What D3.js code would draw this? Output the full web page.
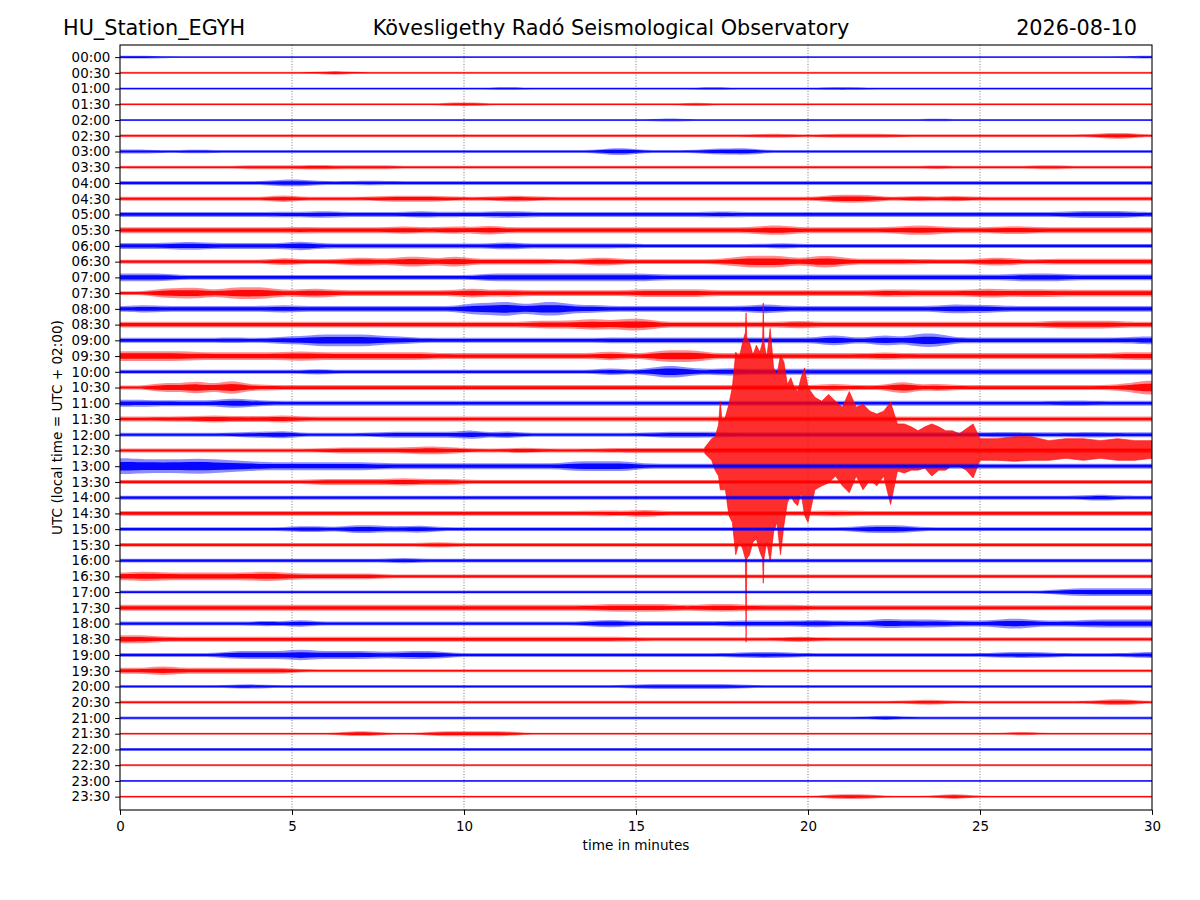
<!DOCTYPE html>
<html>
<head>
<meta charset="utf-8">
<script src="https://cdn.jsdelivr.net/npm/d3@7/dist/d3.min.js"></script>
<style>
  body { margin: 0; background: #fff; }
  text { font-family: "DejaVu Sans", sans-serif; fill: #000; }
</style>
</head>
<body>
<div id="chart"></div>
<script>
var stationName = "HU_Station_EGYH";
var observatory = "Kövesligethy Radó Seismological Observatory";
var dayLabel = "2026-08-10";

var traceLabels = [
  "00:00","00:30","01:00","01:30","02:00","02:30","03:00","03:30",
  "04:00","04:30","05:00","05:30","06:00","06:30","07:00","07:30",
  "08:00","08:30","09:00","09:30","10:00","10:30","11:00","11:30",
  "12:00","12:30","13:00","13:30","14:00","14:30","15:00","15:30",
  "16:00","16:30","17:00","17:30","18:00","18:30","19:00","19:30",
  "20:00","20:30","21:00","21:30","22:00","22:30","23:00","23:30"
];

var minuteTicks = [0, 5, 10, 15, 20, 25, 30];

// noise envelope per half-minute, one string per trace (base-36 char = 2 x half amplitude)
var noiseLevels = [
  "3322222222 2222222222 2222222222 2222222222 2222222222 2222222223",
  "2222222222 2252222222 2222222222 2222222222 2222222222 2222222222",
  "2222222222 2222222222 2232222222 2222322222 2332222222 2222222222",
  "2222222222 2222222224 4222222222 2224222222 2222222222 2222222222",
  "2222222222 2222222222 2222222222 2332222222 2222222322 2222222222",
  "3333333333 3333333333 3333333333 3333333443 3444433333 3333333663",
  "4433433333 3333333333 3333333377 3333667333 3333333333 3333333333",
  "3333333444 4544443333 3333333333 3333333333 3333333433 3334433333",
  "4444444447 7444544444 4444444444 4444444444 4444444444 4444444444",
  "4444444448 4444466664 4466444444 4444444444 4888446464 4444444444",
  "5555555556 5765555756 5676555555 5555665555 5555555555 5555577775",
  "6666666666 7666668668 6a66666666 66666669a6 666668a866 6886666666",
  "6668866666 a655555555 5585555555 4444444464 4444444444 4444444444",
  "4444444448 555886aa6c 6666655885 555558ccc6 cc66665555 8855666666",
  "8885555555 5555555555 5888888888 8666666666 6666666666 6688866666",
  "44aac6ccc6 8a66666666 a686666666 8888666666 6666877777 a788777777",
  "6866666668 6666666666 ccg8ee8866 6666666a66 66666666a8 8666666666",
  "6666666666 6666666666 6666888c8c c666666668 6666666666 6666888866",
  "5555556558 8cccc88555 5555555566 6666666666 6c66c6ee66 6666666668",
  "aaaa888888 a888888866 66666666a6 6ccc666666 6666866666 6666666688",
  "4444444444 4644444444 4444444484 6cc6686666 6666666666 6666666666",
  "44a8e6g665 5555555555 5555555555 5555555555 58555e5855 555555558e",
  "776666a855 5555555555 5555555555 5555555555 5555555555 5555565555",
  "5556686668 5555555555 5555555555 5555555555 5555555555 5555555555",
  "4444444668 4444466666 a484444444 4666655555 5555555555 5655556555",
  "4444444444 4466666886 4446444455 5555555555 5555555555 5555555555",
  "geeegeca88 8888866666 666666aaaa 5555555555 5555555555 5555555555",
  "4444444444 4666668666 4444444444 4444444444 4444444444 4444444444",
  "4444444444 4444444444 4444444444 4444444444 4444444444 4444446644",
  "5555555555 5555555555 5555555565 8555555555 5655555555 5555555555",
  "4444444444 6648866844 4444444444 4444444444 4448884444 4444444444",
  "4444444444 4444444464 4444444444 4444444444 4444444444 4444444444",
  "4444444444 4444446444 4444444444 4444444444 4444444444 4444444444",
  "8a888888a8 6666644444 4444444444 4444444444 4444444444 4444444444",
  "3333333333 3333333333 3333333333 3333333333 3333333333 3333588888",
  "6666666666 6666666666 6666666688 8866886666 5555555555 5555555555",
  "4444444464 8444444444 4444444686 5555566666 8666a88866 6aa6668888",
  "8855555555 5555555555 5555555555 4444444446 4444444444 4444444444",
  "4444448888 c888868884 4444444444 4444446664 4444444444 4666444446",
  "66a6666666 3333333333 3333333333 3333333333 3333333333 3333333333",
  "3333333533 3333333333 3333333333 5555553333 3333333333 3333333333",
  "3333333333 3333333333 3333333333 3333333333 3333335533 3333333663",
  "3333333333 3333333333 3333333333 3333333333 3333533333 3333333333",
  "2222222222 2225522255 5552222222 2222222222 2222222222 2242222222",
  "3333333333 3333333333 3333333333 3333333333 3333333333 3333333333",
  "2222222222 2222222222 2222222222 2222222222 2222222222 2222222222",
  "2222222222 2222222222 2222222222 2222222222 2222222222 2222222222",
  "2222222222 2222222222 2222222222 2222222222 2555222262 2222222222"
];

// the earthquake on the 12:30 line: time (min), upward and downward swing
var eventTrace = 25;
var eventTime = [17.0, 17.2, 17.3, 17.4, 17.45, 17.5, 17.6, 17.7, 17.8, 17.9, 18.0, 18.1, 18.18, 18.2, 18.22,
  18.3, 18.4, 18.5, 18.6, 18.68, 18.7, 18.72, 18.8, 18.9, 19.0, 19.1, 19.2, 19.3, 19.4, 19.5, 19.6, 19.7,
  19.8, 19.9, 20.0, 20.2, 20.4, 20.6, 20.8, 21.0, 21.2, 21.4, 21.6, 21.8, 22.0, 22.2, 22.4, 22.6, 22.8,
  23.0, 23.2, 23.4, 23.6, 23.8, 24.0, 24.2, 24.4, 24.6, 24.8, 25.0, 25.5, 26.0, 26.5, 27.0, 27.5, 28.0,
  28.5, 29.0, 29.5, 30.0];
var eventUp = [3, 12, 14, 26, 50, 30, 34, 47, 64, 100, 94, 110, 120, 140, 115,
  110, 97, 107, 100, 110, 150, 110, 94, 124, 84, 77, 97, 90, 67, 74, 64, 60,
  74, 84, 64, 54, 50, 57, 50, 44, 60, 44, 47, 40, 37, 40, 49, 27, 27,
  24, 20, 24, 27, 24, 20, 20, 17, 22, 27, 12, 12, 14, 14, 10, 12, 12,
  10, 12, 10, 10];
var eventDown = [3, 10, 20, 26, 40, 40, 40, 66, 73, 106, 93, 100, 110, 195, 110,
  106, 93, 90, 103, 110, 135, 110, 93, 113, 83, 73, 106, 76, 53, 46, 53, 56,
  43, 66, 73, 40, 36, 33, 26, 36, 43, 26, 40, 30, 36, 26, 55, 21, 23,
  20, 20, 18, 26, 20, 20, 15, 16, 20, 28, 10, 10, 11, 10, 10, 8, 10,
  8, 10, 10, 8];

// ---- layout ----
var W = 1200, H = 900;
var plot = { left: 120, right: 1152, top: 45, bottom: 810 };
var traceColors = ["#0000ff", "#ff0000"];

var svg = d3.select("#chart").append("svg")
  .attr("width", W)
  .attr("height", H);

var x = d3.scaleLinear().domain([0, 30]).range([plot.left, plot.right]);
var y = d3.scaleLinear().domain([-0.77, 47.85]).range([plot.top, plot.bottom]);
// amplitude units -> pixels (16 units ~ one trace spacing)
var amp = d3.scaleLinear().domain([0, 16]).range([0, y(1) - y(0)]);

svg.append("defs").append("clipPath").attr("id", "plotclip")
  .append("rect")
  .attr("x", plot.left).attr("y", plot.top)
  .attr("width", plot.right - plot.left).attr("height", plot.bottom - plot.top);

// vertical dotted grid
svg.append("g")
  .selectAll("line")
  .data(minuteTicks.slice(1, -1))
  .enter().append("line")
  .attr("x1", function (d) { return x(d); })
  .attr("x2", function (d) { return x(d); })
  .attr("y1", plot.top).attr("y2", plot.bottom)
  .attr("stroke", "#000")
  .attr("stroke-width", 0.7)
  .attr("stroke-dasharray", "1,1.7")
  .attr("opacity", 0.75);

var traces = svg.append("g").attr("clip-path", "url(#plotclip)");

function levelsOf(str) {
  var s = str.replace(/ /g, "");
  var pts = [];
  for (var i = 0; i < s.length; i++) {
    pts.push({ t: i * 0.5 + 0.25, a: parseInt(s[i], 36) / 2 });
  }
  pts.unshift({ t: 0, a: pts[0].a });
  pts.push({ t: 30, a: pts[pts.length - 1].a });
  return pts;
}

noiseLevels.forEach(function (str, i) {
  var base = y(i);
  var color = traceColors[i % 2];
  var band = d3.area()
    .x(function (d) { return x(d.t); })
    .y0(function (d) { return base + amp(d.a); })
    .y1(function (d) { return base - amp(d.a); })
    .curve(d3.curveBasis);

  var pts = levelsOf(str);

  // fuzzy outer envelope
  traces.append("path")
    .datum(pts)
    .attr("d", band)
    .attr("fill", color)
    .attr("fill-opacity", 0.45)
    .attr("stroke", "none");

  // denser core of the trace
  var core = d3.area()
    .x(function (d) { return x(d.t); })
    .y0(function (d) { return base + Math.max(0.6, amp(d.a) * 0.55); })
    .y1(function (d) { return base - Math.max(0.6, amp(d.a) * 0.55); })
    .curve(d3.curveBasis);

  traces.append("path")
    .datum(pts)
    .attr("d", core)
    .attr("fill", color)
    .attr("fill-opacity", 0.95)
    .attr("stroke", "none");

  if (i === eventTrace) {
    var quake = eventTime.map(function (t, k) {
      return { t: t, up: eventUp[k], down: eventDown[k] };
    });
    var quakeArea = d3.area()
      .x(function (d) { return x(d.t); })
      .y0(function (d) { return base + amp(d.down); })
      .y1(function (d) { return base - amp(d.up); })
      .curve(d3.curveLinear);
    traces.append("path")
      .datum(quake)
      .attr("d", quakeArea)
      .attr("fill", color)
      .attr("fill-opacity", 0.82)
      .attr("stroke", color)
      .attr("stroke-width", 0.6);
  }
});

// axes
var xAxis = d3.axisBottom(x)
  .tickValues(minuteTicks)
  .tickFormat(d3.format("d"))
  .tickSize(4.9)
  .tickPadding(6.3);

var yAxis = d3.axisLeft(y)
  .tickValues(d3.range(traceLabels.length))
  .tickFormat(function (i) { return traceLabels[i]; })
  .tickSize(4.9)
  .tickPadding(4.9);

var gx = svg.append("g")
  .attr("transform", "translate(0," + plot.bottom + ")")
  .call(xAxis);
var gy = svg.append("g")
  .attr("transform", "translate(" + plot.left + ",0)")
  .call(yAxis);

[gx, gy].forEach(function (g) {
  g.select(".domain").remove();
  g.selectAll(".tick line").attr("stroke", "#000").attr("stroke-width", 1);
  g.selectAll(".tick text")
    .style("font-family", "'DejaVu Sans', sans-serif")
    .style("font-size", "13.4px")
    .attr("fill", "#000");
});

// frame
svg.append("rect")
  .attr("x", plot.left).attr("y", plot.top)
  .attr("width", plot.right - plot.left).attr("height", plot.bottom - plot.top)
  .attr("fill", "none")
  .attr("stroke", "#000")
  .attr("stroke-width", 1.1);

// labels
svg.append("text")
  .attr("x", (plot.left + plot.right) / 2)
  .attr("y", 850)
  .attr("text-anchor", "middle")
  .style("font-size", "13.6px")
  .text("time in minutes");

svg.append("text")
  .attr("transform", "translate(62," + ((plot.top + plot.bottom) / 2) + ") rotate(-90)")
  .attr("text-anchor", "middle")
  .style("font-size", "13.6px")
  .text("UTC (local time = UTC + 02:00)");

// header
svg.append("text")
  .attr("x", 63).attr("y", 35)
  .style("font-size", "20.8px")
  .text(stationName);

svg.append("text")
  .attr("x", 611).attr("y", 35)
  .attr("text-anchor", "middle")
  .style("font-size", "20.8px")
  .text(observatory);

svg.append("text")
  .attr("x", 1137).attr("y", 35)
  .attr("text-anchor", "end")
  .style("font-size", "20.8px")
  .text(dayLabel);
</script>
</body>
</html>
